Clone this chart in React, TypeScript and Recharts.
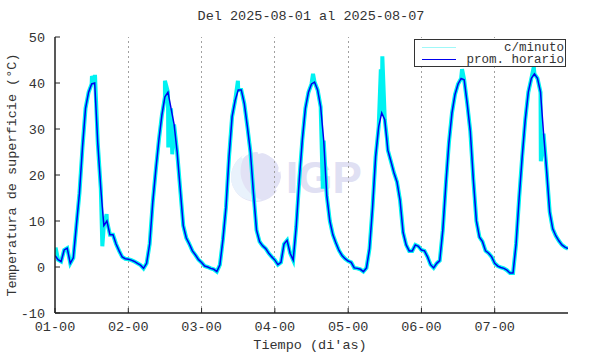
import { LineChart, Line, XAxis, YAxis, ReferenceLine, Legend } from "recharts";

// promedios horarios (24 por dia)
const dia1 = [2.5, 1.6, 1.2, 3.7, 4.1, 0.8, 2, 9, 16, 26, 34.5, 38, 39.8, 40, 27, 17, 9, 10, 7, 7, 5, 3.5, 2.2, 1.8];
const dia2 = [1.7, 1.5, 1.2, 0.8, 0.4, -0.3, 0.8, 5, 14, 21, 27.5, 33, 37, 38, 34.5, 31, 25, 17, 9, 6.3, 5, 3.5, 2.6, 1.6];
const dia3 = [1, 0.2, 0, -0.3, -0.5, -1, 0.5, 6, 13, 24, 32.7, 36.2, 38.5, 38.5, 35.5, 30.5, 25, 16, 8, 5.5, 4.6, 4, 3, 2.2];
const dia4 = [1.5, 0.5, 1, 5, 5.8, 3, 1.5, 8.8, 19, 27.7, 34.5, 38, 39.8, 40.2, 38.5, 34.8, 27.5, 15.5, 10, 7, 5.2, 3.6, 2.5, 1.8];
const dia5 = [1.3, 1, -0.2, -0.3, -0.5, -1, -0.2, 4, 13, 24, 30.5, 33.5, 32, 25.4, 23, 20.5, 18.5, 14.5, 7.5, 4.8, 3.5, 3.5, 4.8, 4.5];
const dia6 = [3.7, 3.5, 2.2, 0.5, -0.2, 0.8, 1.4, 8, 18, 27, 33.5, 37.5, 39.8, 41, 40.7, 35.5, 29.5, 19, 10, 6.5, 5.5, 3.5, 3, 2.2];
const dia7 = [0.8, 0.2, -0.1, -0.3, -0.7, -1.3, -1.3, 5, 15, 24, 32, 38, 41, 42, 41, 38, 29, 21, 12, 8.3, 6.8, 5.7, 4.8, 4.3];
const cierre = 4;

// picos de la serie por minuto (hora, valor)
const picosMinuto: [number, number][] = [
  [0.2, 4.2], [12.1, 41.5], [13.1, 41.8], [15.5, 4.5], [16.9, 11.5],
  [36, 40.5], [37.1, 26], [38.4, 24.5], [59.9, 40.5],
  [84.5, 42], [87.7, 17], [106.7, 43], [107.2, 45.8], [108.7, 28],
  [133.3, 43], [156.8, 43.5], [159.1, 23],
];

const etiquetasDias = ["01-00", "02-00", "03-00", "04-00", "05-00", "06-00", "07-00"];
const ticksHoras = [0, 24, 48, 72, 96, 120, 144];
const ticksTemp = [-10, 0, 10, 20, 30, 40, 50];

const horario = [...dia1, ...dia2, ...dia3, ...dia4, ...dia5, ...dia6, ...dia7, cierre].map(
  (v, i) => ({ t: i, v })
);
const minuto = [...horario, ...picosMinuto.map(([t, v]) => ({ t, v }))].sort((a, b) => a.t - b.t);

const FONT = "'Liberation Mono', 'DejaVu Sans Mono', monospace";
const TXT = "#333";
const EJE = "#222";
const REJILLA = "#a0a0a0";
const ANCHO_PLOT = 513;

function Leyenda() {
  const fila = (color: string, texto: string) => (
    <div style={{ display: "flex", alignItems: "center", height: 12 }}>
      <div style={{ width: 34, height: 0, borderTop: `1.5px solid ${color}`, marginLeft: 7 }} />
      <div style={{ flex: 1, textAlign: "right", paddingRight: 1 }}>{texto}</div>
    </div>
  );
  return (
    <div
      style={{
        width: 152,
        height: 28,
        border: "1px solid #333",
        background: "#fff",
        boxSizing: "border-box",
        fontFamily: FONT,
        fontSize: 12.5,
        color: TXT,
        lineHeight: "12px",
        paddingTop: 1.5,
      }}
    >
      {fila("#9ff8f8", "c/minuto")}
      {fila("#0000ee", "prom. horario")}
    </div>
  );
}

export default function App() {
  return (
    <div style={{ position: "relative", width: 590, height: 354, background: "#fff" }}>
      <style>{"body{margin:0}"}</style>

      {/* marca de agua */}
      <svg width={590} height={354} style={{ position: "absolute", left: 0, top: 0 }}>
        <circle cx={256} cy={177} r={25} fill="#e2e2f5" />
        <path d="M236 192 A25 25 0 0 1 246 154 A30 30 0 0 0 262 200 A25 25 0 0 1 236 192 Z" fill="#e9f2fc" />
        <path d="M242 158 A22 22 0 0 1 276 190" stroke="#fff" strokeWidth={2} fill="none" />
        <path d="M258 153 A16 16 0 0 1 279 172" stroke="#fff" strokeWidth={2} fill="none" />
        <path d="M270 156 A8 8 0 0 1 280 166" stroke="#fff" strokeWidth={2} fill="none" />
        <text x={286} y={193} fontFamily="'Liberation Sans', Arial, sans-serif" fontWeight="bold" fontSize={44} fill="#e0e0f3">
          IGP
        </text>
      </svg>

      <div style={{ position: "absolute", left: 0, top: 0 }}>
        <LineChart width={590} height={354} margin={{ top: 37, right: 22, bottom: 11, left: 0 }}>
          <XAxis
            dataKey="t"
            type="number"
            domain={[0, 168]}
            ticks={ticksHoras}
            tickFormatter={(h: number) => etiquetasDias[ticksHoras.indexOf(h)]}
            height={30}
            tickSize={-5}
            tickMargin={13}
            tickLine={{ stroke: EJE }}
            axisLine={{ stroke: EJE, strokeWidth: 1.5 }}
            tick={{ fontFamily: FONT, fontSize: 13.5, fill: TXT }}
            allowDataOverflow
          />
          <XAxis
            xAxisId="sup"
            orientation="top"
            dataKey="t"
            type="number"
            domain={[0, 168]}
            ticks={ticksHoras}
            height={0}
            tickSize={-5}
            tickFormatter={() => ""}
            tickLine={{ stroke: EJE }}
            axisLine={{ stroke: EJE, strokeWidth: 1.5 }}
          />
          {/* eje derecho: marco y rejilla horizontal */}
          <YAxis
            yAxisId="der"
            orientation="right"
            type="number"
            domain={[-10, 50]}
            ticks={ticksTemp.slice(1, -1)}
            width={0}
            tickSize={-ANCHO_PLOT}
            tickFormatter={() => ""}
            tickLine={{ stroke: "#cdcdcd", strokeWidth: 1, shapeRendering: "crispEdges" }}
            axisLine={{ stroke: EJE, strokeWidth: 1.5 }}
          />
          <YAxis
            type="number"
            domain={[-10, 50]}
            ticks={ticksTemp}
            width={55}
            tickSize={-5}
            tickMargin={15}
            tickLine={{ stroke: EJE }}
            axisLine={{ stroke: EJE, strokeWidth: 1.5 }}
            tick={{ fontFamily: FONT, fontSize: 13.5, fill: TXT }}
            allowDataOverflow
          />
          {ticksHoras.slice(1).map((h) => (
            <ReferenceLine
              key={`x${h}`}
              x={h}
              stroke={REJILLA}
              strokeDasharray="2 3"
              shapeRendering="crispEdges"
            />
          ))}
          <Line
            data={minuto}
            dataKey="v"
            type="linear"
            stroke="#00f2f2"
            strokeWidth={4}
            dot={false}
            isAnimationActive={false}
          />
          <Line
            data={horario}
            dataKey="v"
            type="linear"
            stroke="#0000ee"
            strokeWidth={1.5}
            dot={false}
            isAnimationActive={false}
          />
          <Legend
            verticalAlign="middle"
            layout="horizontal"
            content={() => <Leyenda />}
            wrapperStyle={{ position: "absolute", left: 414, top: 39, width: 152, height: 28 }}
          />
        </LineChart>
      </div>

      <div
        style={{
          position: "absolute",
          top: 9,
          left: 0,
          width: 622,
          textAlign: "center",
          fontFamily: FONT,
          fontSize: 13.5,
          color: TXT,
        }}
      >
        Del 2025-08-01 al 2025-08-07
      </div>
      <div
        style={{
          position: "absolute",
          top: 338,
          left: 0,
          width: 620,
          textAlign: "center",
          fontFamily: FONT,
          fontSize: 13.5,
          color: TXT,
        }}
      >
        Tiempo (di'as)
      </div>
      <div
        style={{
          position: "absolute",
          left: 12,
          top: 175,
          transform: "translate(-50%, -50%) rotate(-90deg)",
          whiteSpace: "nowrap",
          fontFamily: FONT,
          fontSize: 13.5,
          color: TXT,
        }}
      >
        Temperatura de superficie (°C)
      </div>
    </div>
  );
}
